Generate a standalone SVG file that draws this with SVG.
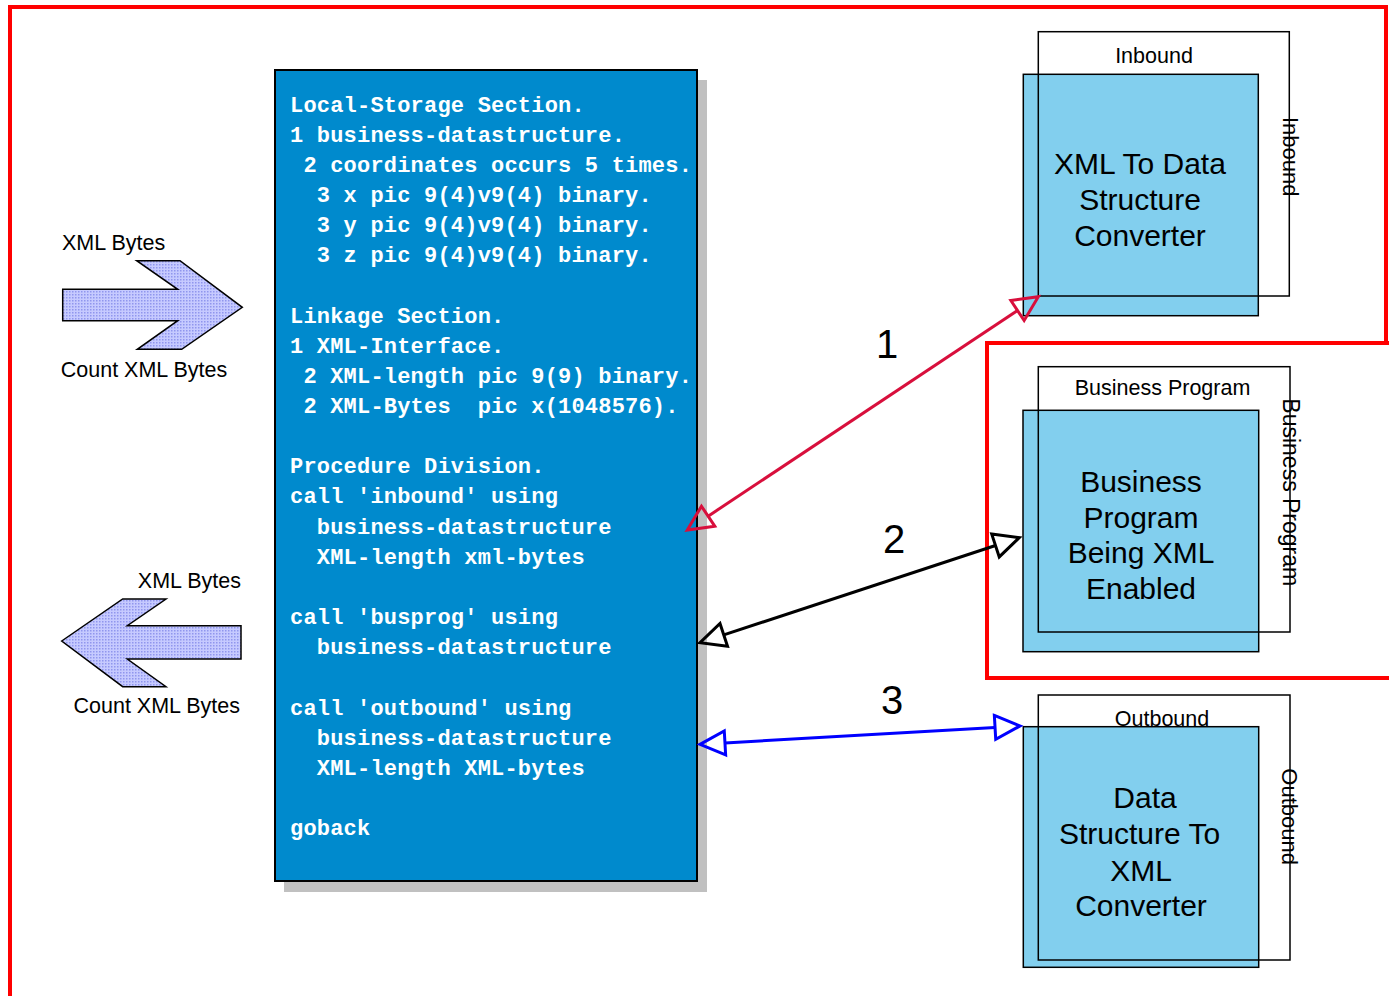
<svg xmlns="http://www.w3.org/2000/svg" width="1389" height="996" viewBox="0 0 1389 996">
<style>
.lbl{font-family:"Liberation Sans",Arial,sans-serif;font-size:21.5px;fill:#000}
.vlbl{font-family:"Liberation Sans",Arial,sans-serif;font-size:22px;fill:#000}
.big{font-family:"Liberation Sans",Arial,sans-serif;font-size:30px;fill:#000;text-anchor:middle}
.num{font-family:"Liberation Sans",Arial,sans-serif;font-size:40px;fill:#000;text-anchor:middle}
.code{font-family:"Liberation Mono","Courier New",monospace;font-size:22px;font-weight:bold;fill:#fff;white-space:pre;letter-spacing:0.2px}
.box{fill:#82cfee;stroke:#000;stroke-width:1.5}
.outline{fill:none;stroke:#000;stroke-width:1.5}
.fat{fill:url(#hatch);stroke:#000;stroke-width:1.5;stroke-linejoin:miter}
.frame{fill:none;stroke:#ff0000;stroke-width:4}
.conn{fill:none;stroke-width:3}
</style>
<defs>
<pattern id="hatch" width="3" height="3" patternUnits="userSpaceOnUse">
<rect width="3" height="3" fill="#c6caff"/>
<rect width="1.5" height="1.5" fill="#9096ee"/>
</pattern>
<marker id="mRed" markerUnits="userSpaceOnUse" markerWidth="40" markerHeight="40" viewBox="-5 -20 40 40" refX="0" refY="0" orient="auto-start-reverse" overflow="visible">
<path d="M0,-12 L25,0 L0,12 Z" fill="none" stroke="#d80f3c" stroke-width="3"/>
</marker>
<marker id="mBlack" markerUnits="userSpaceOnUse" markerWidth="40" markerHeight="40" viewBox="-5 -20 40 40" refX="0" refY="0" orient="auto-start-reverse" overflow="visible">
<path d="M0,-12 L25,0 L0,12 Z" fill="none" stroke="#000" stroke-width="3"/>
</marker>
<marker id="mBlue" markerUnits="userSpaceOnUse" markerWidth="40" markerHeight="40" viewBox="-5 -20 40 40" refX="0" refY="0" orient="auto-start-reverse" overflow="visible">
<path d="M0,-12 L25,0 L0,12 Z" fill="none" stroke="#0000ff" stroke-width="3"/>
</marker>
</defs>
<rect width="1389" height="996" fill="#fff"/>

<g id="frames">
<path class="frame" d="M10,1000 V7 H1386 V342"/>
<path class="frame" d="M1395,343 H987 V678 H1395"/>
</g>

<g id="input-arrow">
<polygon class="fat" points="62.7,289.3 177.7,289.3 136.7,260.7 180,260.7 242.3,307.3 181.7,349.3 137.3,349.3 177.7,320.7 62.7,320.7"/>
<text class="lbl" x="62" y="250">XML Bytes</text>
<text class="lbl" x="144" y="377" text-anchor="middle">Count XML Bytes</text>
</g>

<g id="output-arrow">
<polygon class="fat" points="61.7,641 122.7,599 166,599 127.3,625.7 241,625.7 241,659 127.3,659 166,686.7 122.7,686.7"/>
<text class="lbl" x="241" y="588" text-anchor="end">XML Bytes</text>
<text class="lbl" x="240" y="713" text-anchor="end">Count XML Bytes</text>
</g>

<g id="code-box">
<rect x="284" y="80" width="423" height="812" fill="#c0c0c0"/>
<rect x="275" y="70" width="422" height="811" fill="#008acd" stroke="#000" stroke-width="2"/>
<text class="code" xml:space="preserve"><tspan x="290" y="111.5">Local-Storage Section.</tspan><tspan x="290" y="141.65">1 business-datastructure.</tspan><tspan x="290" y="171.8"> 2 coordinates occurs 5 times.</tspan><tspan x="290" y="201.95">  3 x pic 9(4)v9(4) binary.</tspan><tspan x="290" y="232.1">  3 y pic 9(4)v9(4) binary.</tspan><tspan x="290" y="262.25">  3 z pic 9(4)v9(4) binary.</tspan><tspan x="290" y="322.55">Linkage Section.</tspan><tspan x="290" y="352.7">1 XML-Interface.</tspan><tspan x="290" y="382.85"> 2 XML-length pic 9(9) binary.</tspan><tspan x="290" y="413"> 2 XML-Bytes  pic x(1048576).</tspan><tspan x="290" y="473.3">Procedure Division.</tspan><tspan x="290" y="503.45">call 'inbound' using</tspan><tspan x="290" y="533.6">  business-datastructure</tspan><tspan x="290" y="563.75">  XML-length xml-bytes</tspan><tspan x="290" y="624.05">call 'busprog' using</tspan><tspan x="290" y="654.2">  business-datastructure</tspan><tspan x="290" y="714.5">call 'outbound' using</tspan><tspan x="290" y="744.65">  business-datastructure</tspan><tspan x="290" y="774.8">  XML-length XML-bytes</tspan><tspan x="290" y="835.1">goback</tspan></text>
</g>

<g id="inbound">
<text class="lbl" x="1154" y="63" text-anchor="middle">Inbound</text>
<rect class="box" x="1023.3" y="74.3" width="235" height="241.4"/>
<rect class="outline" x="1038.3" y="31.7" width="251" height="264.3"/>
<text class="vlbl" transform="translate(1283,117) rotate(90)">Inbound</text>
<text class="big"><tspan x="1140" y="174.3">XML To Data</tspan><tspan x="1140" y="210.3">Structure</tspan><tspan x="1140" y="246.3">Converter</tspan></text>
</g>

<g id="business-program">
<text class="lbl" x="1162.5" y="395" text-anchor="middle">Business Program</text>
<rect class="box" x="1023" y="410.3" width="235.7" height="241.4"/>
<rect class="outline" x="1038.3" y="366.7" width="251.7" height="265.3"/>
<text class="vlbl" style="font-size:23px" transform="translate(1283,398.3) rotate(90)">Business Program</text>
<text class="big"><tspan x="1141" y="492.3">Business</tspan><tspan x="1141" y="527.6">Program</tspan><tspan x="1141" y="563">Being XML</tspan><tspan x="1141" y="599.3">Enabled</tspan></text>
</g>

<g id="outbound">
<text class="lbl" x="1162" y="726" text-anchor="middle">Outbound</text>
<rect class="box" x="1023.3" y="726.7" width="235.4" height="240.6"/>
<rect class="outline" x="1038.3" y="695" width="251.7" height="265"/>
<text class="vlbl" transform="translate(1282,768.3) rotate(90)">Outbound</text>
<text class="big"><tspan x="1145" y="808.3">Data</tspan><tspan x="1139.5" y="844.3">Structure To</tspan><tspan x="1141" y="880.5">XML</tspan><tspan x="1141" y="916.3">Converter</tspan></text>
</g>

<g id="connectors">
<line class="conn" x1="708.1" y1="516.2" x2="1017.5" y2="310.5" stroke="#d80f3c" marker-start="url(#mRed)" marker-end="url(#mRed)"/>
<line class="conn" x1="723.75" y1="634.9" x2="995.5" y2="545.5" stroke="#000" marker-start="url(#mBlack)" marker-end="url(#mBlack)"/>
<line class="conn" x1="724.96" y1="742.9" x2="995.04" y2="727.4" stroke="#0000ff" marker-start="url(#mBlue)" marker-end="url(#mBlue)"/>
<text class="num" x="887" y="358.3">1</text>
<text class="num" x="894" y="553.3">2</text>
<text class="num" x="892" y="714">3</text>
</g>
</svg>
